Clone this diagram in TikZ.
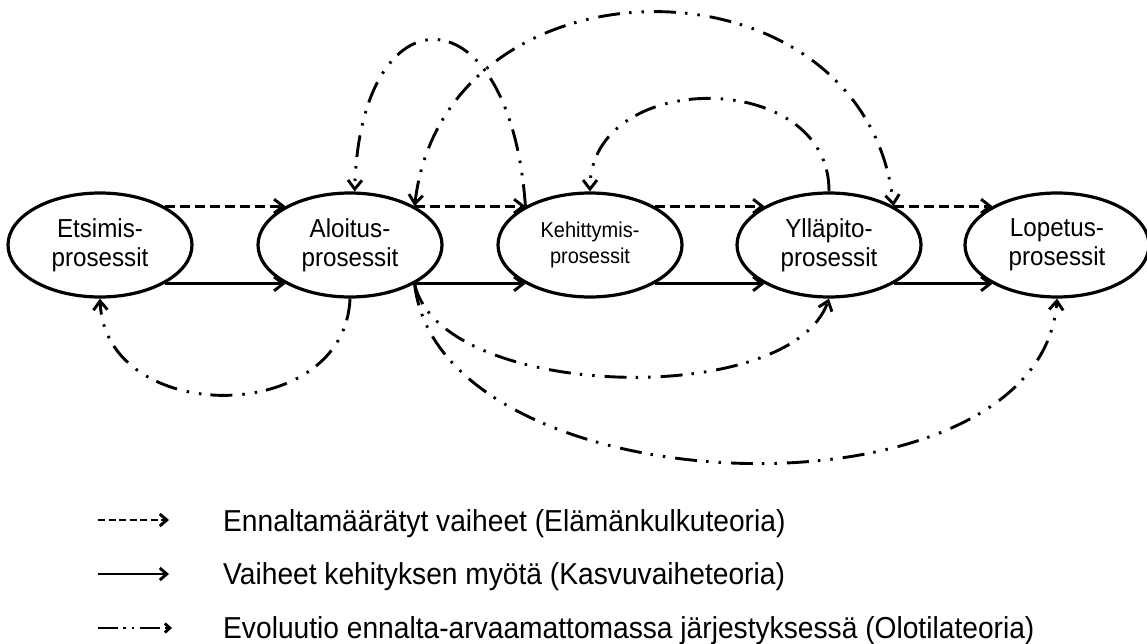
\documentclass[tikz,border=0pt]{standalone}
\usepackage{fontspec}
\setmainfont{Liberation Sans}
\newfontfamily\condfont[FakeStretch=0.93]{Liberation Sans}
\usetikzlibrary{arrows.meta,shapes.geometric}
\begin{document}
\begin{tikzpicture}[x=1pt,y=-1pt,
  proc/.style={ellipse, draw, line width=3.2pt, minimum width=184pt, minimum height=104pt,
    inner sep=0pt, align=center, font=\condfont\fontsize{26}{29}\selectfont},
  tipv/.tip={Straight Barb[length=9pt,width=14pt]},
  conn/.style={line width=2.9pt, -tipv},
  preline/.style={conn, dash pattern=on 10pt off 5pt},
  growline/.style={conn},
  evoline/.style={conn, dash pattern=on 22pt off 9pt on 2.5pt off 10pt on 2.5pt off 10pt},
  legtext/.style={anchor=base west, inner sep=0pt, font=\condfont\fontsize{30.3}{32}\selectfont}
]
\useasboundingbox (0,0) rectangle (1147,644);

\node[proc] (E) at (100,245) {Etsimis-\\prosessit};
\node[proc] (A) at (350,245) {Aloitus-\\prosessit};
\node[proc, font=\condfont\fontsize{21.5}{26}\selectfont] (K) at (590,245) {Kehittymis-\\prosessit};
\node[proc] (Y) at (829,245) {Ylläpito-\\prosessit};
\node[proc] (L) at (1057,245) {Lopetus-\\prosessit};

% predetermined (dashed)
\draw[preline] (E.31) -- (A.149);
\draw[preline] (A.31) -- (K.149);
\draw[preline] (K.31) -- (Y.149);
\draw[preline] (Y.31) -- (L.149);

% growth (solid)
\draw[growline] (E.-31) -- (A.-149);
\draw[growline] (A.-31) -- (K.-149);
\draw[growline] (K.-31) -- (Y.-149);
\draw[growline] (Y.-31) -- (L.-149);

% evolution (dash-dot-dot)
\draw[evoline] (A.south) .. controls (345,427) and (105,427) .. (E.south);
\draw[evoline] (A.-31) .. controls (440,400) and (790,410) .. (Y.south);
\draw[evoline] (A.-31) .. controls (440,510) and (1040,530) .. (L.south);
\draw[evoline] (K.149) .. controls (510,-13) and (360,-13) .. (A.85);
\draw[evoline, tipv-tipv] (A.31) .. controls (445,-52) and (865,-52) .. (Y.31);
\draw[evoline] (Y.north) .. controls (830,68) and (590,68) .. (K.north);

% legend
\coordinate (d1) at (98,520); \coordinate (d2) at (169,520);
\coordinate (s1) at (98,574); \coordinate (s2) at (169,574);
\coordinate (v1) at (98,628); \coordinate (v2) at (172,628);
\draw[line width=2.9pt, dash pattern=on 7pt off 3.5pt, -{Straight Barb[length=7pt,width=12pt]}] (d1) -- (d2);
\draw[line width=2.9pt, -{Straight Barb[length=7pt,width=12pt]}] (s1) -- (s2);
\draw[line width=2.9pt, dash pattern=on 20pt off 5pt on 2.5pt off 6pt on 2.5pt off 6pt, -{Straight Barb[length=5pt,width=9pt]}] (v1) -- (v2);
\node[legtext] (t1) at (223,531) {Ennaltamäärätyt vaiheet (Elämänkulkuteoria)};
\node[legtext] (t2) at (223,584) {Vaiheet kehityksen myötä (Kasvuvaiheteoria)};
\node[legtext] (t3) at (223,638) {Evoluutio ennalta-arvaamattomassa järjestyksessä (Olotilateoria)};
\end{tikzpicture}
\end{document}
